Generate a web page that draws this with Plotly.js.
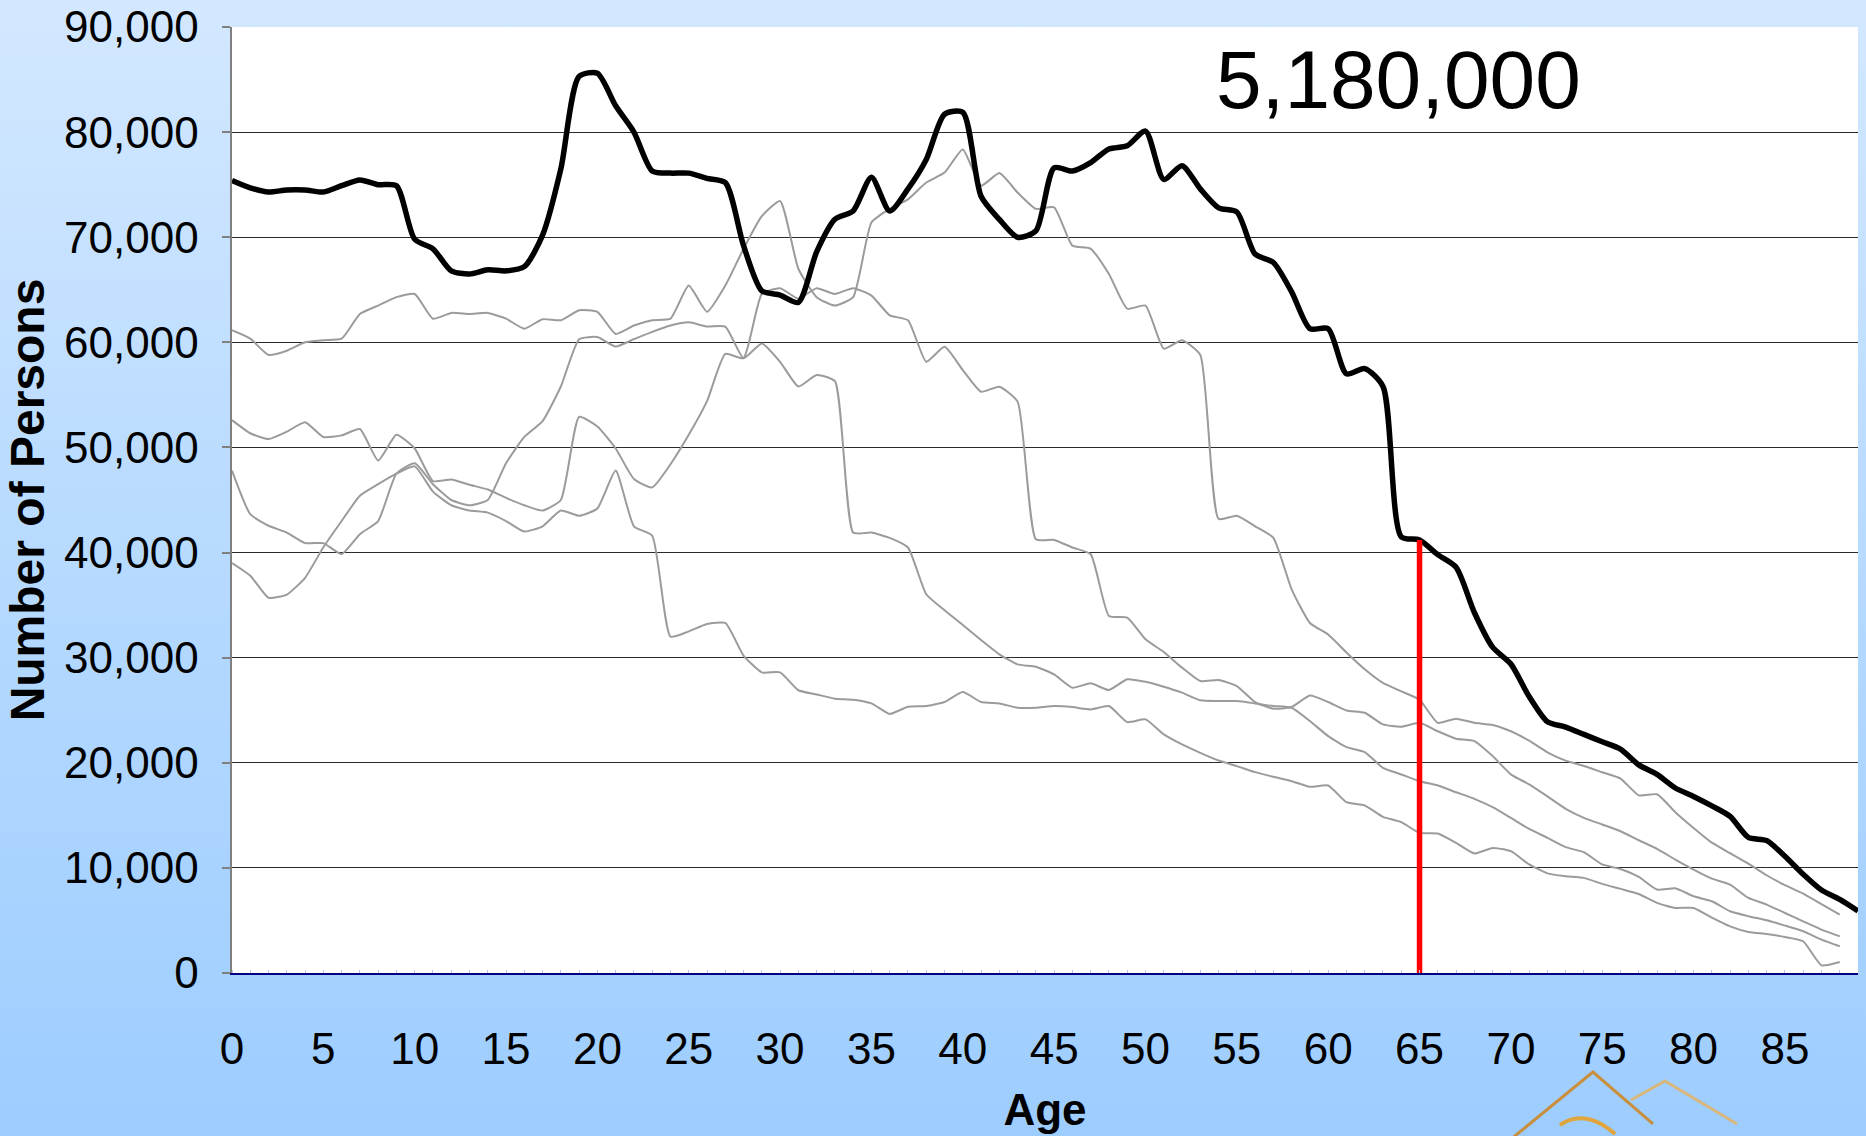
<!DOCTYPE html>
<html>
<head>
<meta charset="utf-8">
<script src="https://cdn.plot.ly/plotly-3.0.1.min.js"></script>
<style>
  html, body { margin: 0; padding: 0; }
  body { width: 1866px; height: 1136px; background: linear-gradient(to bottom, #d3e8ff 0%, #b9dbff 45%, #9dcdff 100%); overflow: hidden; }
  #chart { width: 1866px; height: 1136px; }
</style>
</head>
<body>
<div id="chart"></div>
<script>
// Age categories (0 .. 89)
const AGES = [0,1,2,3,4,5,6,7,8,9,10,11,12,13,14,15,16,17,18,19,20,21,22,23,24,25,26,27,28,29,
  30,31,32,33,34,35,36,37,38,39,40,41,42,43,44,45,46,47,48,49,50,51,52,53,54,55,56,57,58,59,
  60,61,62,63,64,65,66,67,68,69,70,71,72,73,74,75,76,77,78,79,80,81,82,83,84,85,86,87,88,89];

// Current population by single year of age (black line)
const TOTAL = [75400,74700,74300,74500,74500,74300,74900,75450,75000,74900,
  69800,68900,66800,66500,66900,66800,67200,70200,76500,85300,
  85600,82500,80000,76300,76100,76100,75600,75200,69200,64900,
  64500,63800,68600,71700,72500,75700,72500,74600,77400,81700,
  81900,73900,71700,70000,70600,76600,76300,77100,78400,78700,
  80100,75500,76800,74600,72800,72400,68400,67600,64800,61300,
  61300,57000,57500,55800,41500,41200,39800,38600,34300,31000,
  29400,26300,23900,23400,22700,22000,21300,19800,18900,17600,
  16800,15900,14900,12900,12600,11100,9400,7900,7000,5900];

// Earlier age profiles (grey lines), ages 0 .. 88
const PROFILE_A = [39000,37800,35700,36000,37600,40500,43000,45400,46500,47500,
  48200,45800,44500,44000,43800,43000,42000,42500,44000,43500,
  44200,47800,42500,41600,32000,32500,33200,33300,30200,28600,
  28600,26900,26500,26100,26000,25650,24650,25330,25400,25780,
  26730,25780,25650,25240,25240,25400,25300,25080,25400,23870,
  24130,22700,21750,20950,20220,19680,19110,18670,18250,17710,
  17840,16250,15940,14860,14350,13330,13270,12380,11370,11900,
  11590,10330,9480,9210,9050,8480,8000,7520,6670,6190,
  6190,5270,4440,3910,3710,3430,3020,730,1050];

const PROFILE_B = [47800,43650,42550,41900,40900,40900,39850,41750,43000,47500,
  48500,46500,45000,44500,45000,48500,51000,52500,55800,60300,
  60500,59600,60300,61000,61600,61900,61500,61500,58500,59900,
  58150,55800,56900,56300,41900,41900,41400,40480,36030,34510,
  33110,31680,30320,29360,29140,28400,27140,27560,26920,27940,
  27700,27240,26670,25940,25870,25870,25650,25400,25240,23970,
  22540,21490,21020,19520,18890,18250,17840,17200,16570,15780,
  14760,13710,12860,11970,11490,10330,9900,9140,7940,8060,
  7300,6830,5870,5400,5010,4510,3970,3170,2540];

const PROFILE_C = [52600,51350,50800,51500,52400,51000,51150,51750,48750,51200,
  49900,46800,46950,46450,46000,45200,44500,44000,45000,52900,
  52000,49900,47000,46200,48400,51200,54400,58900,58500,64600,
  65150,64150,65150,64600,65150,64450,62570,62100,58150,59570,
  57360,55300,55780,54360,41270,41200,40480,39840,33970,33810,
  31750,30540,29050,27780,27870,27300,25780,25140,25300,26400,
  25780,24980,24760,23650,23430,23810,23000,22290,22060,20640,
  18900,17940,16800,15620,14760,14130,13490,12630,11810,10790,
  9840,8980,8410,7140,6510,5710,4920,4130,3490];

const PROFILE_D = [61150,60350,58800,59200,60000,60200,60350,62700,63500,64300,
  64600,62250,62800,62700,62800,62250,61300,62200,62100,63050,
  62900,60800,61600,62100,62250,65400,62900,65400,68900,72000,
  73450,67000,64300,63500,64300,71400,72700,73600,75200,76150,
  78350,74900,76100,74250,72700,72850,69200,68900,66500,63200,
  63500,59400,60200,58800,43200,43500,42500,41400,36500,33300,
  32200,30500,28900,27600,26800,26000,23800,24200,23800,23600,
  23000,22100,21000,20200,19700,19100,18500,16900,17000,15300,
  13800,12400,11400,10400,9300,8350,7550,6550,5550];

const GREY_PROFILES = [PROFILE_A, PROFILE_B, PROFILE_C, PROFILE_D];
const RETIREMENT_AGE = 65;
const TOTAL_LABEL = "5,180,000";
const X_TICKS = [0,5,10,15,20,25,30,35,40,45,50,55,60,65,70,75,80,85];

const FONT = '"Liberation Sans", Arial, sans-serif';

const traces = [];
GREY_PROFILES.forEach(function (p) {
  traces.push({
    x: AGES.slice(0, p.length), y: p, type: 'scatter', mode: 'lines',
    line: { color: '#9b9b9b', width: 2, shape: 'spline', smoothing: 0.5 },
    hoverinfo: 'skip', showlegend: false
  });
});
traces.push({
  x: AGES, y: TOTAL, type: 'scatter', mode: 'lines',
  line: { color: '#000000', width: 5.5, shape: 'spline', smoothing: 0.7 }, showlegend: false
});
const retIdx = AGES.indexOf(RETIREMENT_AGE);
traces.push({
  x: [RETIREMENT_AGE, RETIREMENT_AGE], y: [0, TOTAL[retIdx]], type: 'scatter', mode: 'lines',
  line: { color: '#ff0000', width: 5.5 }, showlegend: false
});

const W = 1866, H = 1136;
const L = 232, R = 8, T = 27, B = 163;
const pw = W - L - R, ph = H - T - B;
function px(X) { return (X - L) / pw; }
function py(Y) { return (H - B - Y) / ph; }
function pathPts(pts) {
  return 'M' + pts.map(function (p) { return px(p[0]).toFixed(4) + ',' + py(p[1]).toFixed(4); }).join(' L');
}

const layout = {
  width: W, height: H,
  margin: { l: L, r: R, t: T, b: B, pad: 0 },
  paper_bgcolor: 'rgba(0,0,0,0)',
  plot_bgcolor: '#ffffff',
  font: { family: FONT, color: '#000000' },
  xaxis: {
    range: [0, 89], tickmode: 'array', tickvals: X_TICKS, ticktext: X_TICKS.map(String),
    showgrid: false, zeroline: false,
    showline: true, linecolor: '#000080', linewidth: 2,
    ticks: '', tickfont: { size: 44, family: FONT },
    ticklabelstandoff: 36,
    minor: { dtick: 1, tick0: 0, ticks: 'inside', ticklen: 3, tickcolor: '#b8c4e0', showgrid: false },
    title: { text: '<b>Age</b>', font: { size: 44, family: FONT }, standoff: 22 },
    fixedrange: true
  },
  yaxis: {
    range: [0, 90000], dtick: 10000, tickformat: ',d',
    showgrid: true, gridcolor: '#2b2b2b', gridwidth: 1.2,
    zeroline: false, showline: true, linecolor: '#808080', linewidth: 2.5,
    ticks: 'outside', ticklen: 8, tickcolor: '#808080', tickwidth: 2,
    tickfont: { size: 44, family: FONT },
    ticklabelstandoff: 14,
    title: { text: '<b>Number of Persons</b>', font: { size: 48, family: FONT }, standoff: 5 },
    fixedrange: true
  },
  annotations: [{
    xref: 'paper', yref: 'paper', x: px(1398), y: py(80), xanchor: 'center', yanchor: 'middle',
    text: TOTAL_LABEL, showarrow: false, font: { size: 82, family: FONT, color: '#000000' }
  }],
  shapes: [
    { type: 'path', xref: 'paper', yref: 'paper', layer: 'above',
      path: pathPts([[1510, 1140], [1593, 1072], [1653, 1124]]),
      line: { color: '#c98f3c', width: 3 } },
    { type: 'path', xref: 'paper', yref: 'paper', layer: 'above',
      path: pathPts([[1631, 1100], [1665, 1081], [1737, 1124]]),
      line: { color: '#d9b77a', width: 3 } },
    { type: 'path', xref: 'paper', yref: 'paper', layer: 'above',
      path: 'M' + px(1560).toFixed(4) + ',' + py(1125).toFixed(4) + ' Q' + px(1585).toFixed(4) + ',' + py(1108).toFixed(4) + ' ' + px(1615).toFixed(4) + ',' + py(1134).toFixed(4),
      line: { color: '#e0a53c', width: 4 } }
  ]
};

Plotly.newPlot('chart', traces, layout, { displayModeBar: false, staticPlot: true });
</script>
</body>
</html>
